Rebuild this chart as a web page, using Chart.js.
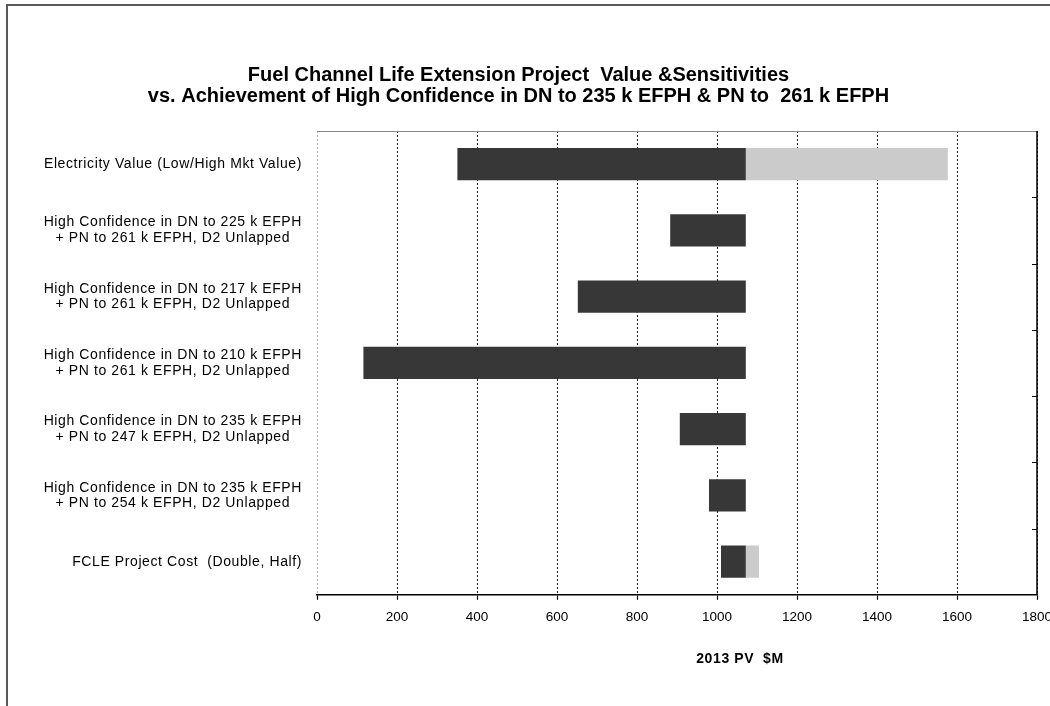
<!DOCTYPE html>
<html><head><meta charset="utf-8">
<script src="https://cdn.jsdelivr.net/npm/chart.js@4/dist/chart.umd.min.js"></script>
<style>
html,body{margin:0;padding:0;background:#fff;}
#wrap{position:relative;width:1050px;height:706px;overflow:hidden;background:#fff;}
#frame{position:absolute;left:6px;top:4px;width:1100px;height:800px;border-left:2px solid #5a5a5a;border-top:2px solid #5a5a5a;box-sizing:border-box;}
canvas{position:absolute;left:0;top:0;}
</style></head>
<body><div id="wrap"><div id="frame"></div><canvas id="c" width="1050" height="706"></canvas></div>
<script>
// ---- data ----
const titleLines = [
  "Fuel Channel Life Extension Project  Value &Sensitivities",
  "vs. Achievement of High Confidence in DN to 235 k EFPH & PN to  261 k EFPH"
];
const categories = [
  ["Electricity Value (Low/High Mkt Value)"],
  ["High Confidence in DN to 225 k EFPH", "+ PN to 261 k EFPH, D2 Unlapped"],
  ["High Confidence in DN to 217 k EFPH", "+ PN to 261 k EFPH, D2 Unlapped"],
  ["High Confidence in DN to 210 k EFPH", "+ PN to 261 k EFPH, D2 Unlapped"],
  ["High Confidence in DN to 235 k EFPH", "+ PN to 247 k EFPH, D2 Unlapped"],
  ["High Confidence in DN to 235 k EFPH", "+ PN to 254 k EFPH, D2 Unlapped"],
  ["FCLE Project Cost  (Double, Half)"]
];
const baseValue = 1072;
const lowValues  = [351, 883, 652, 116, 907, 980, 1010];
const highValues = [1577, null, null, null, null, null, 1105];
const xMin = 0, xMax = 1800, xStep = 200;
const xAxisTitle = "2013 PV  $M";

// ---- plugins ----
const FONT = '"Liberation Sans", Arial, sans-serif';
function setSpacing(ctx, v){ if ('letterSpacing' in ctx) ctx.letterSpacing = v; }

const catLabels = {
  id: 'catLabels',
  afterDraw(chart) {
    const ctx = chart.ctx, ys = chart.scales.y;
    const right = chart.chartArea.left - 15;
    ctx.save();
    ctx.font = '14px ' + FONT;
    setSpacing(ctx, '0.6px');
    ctx.fillStyle = '#000';
    ctx.textBaseline = 'middle';
    ctx.textAlign = 'center';
    categories.forEach((lines, i) => {
      const cy = ys.getPixelForValue(i);
      const w = Math.max(...lines.map(l => ctx.measureText(l).width));
      const cx = right - w / 2;
      const lh = 15.5;
      lines.forEach((l, j) => ctx.fillText(l, cx, cy + (j - (lines.length - 1) / 2) * lh));
    });
    ctx.restore();
  }
};

const plotFrame = {
  id: 'plotFrame',
  afterDraw(chart) {
    const ctx = chart.ctx, a = chart.chartArea, ys = chart.scales.y;
    ctx.save();
    ctx.strokeStyle = '#8a8a8a'; ctx.lineWidth = 1;
    ctx.beginPath(); ctx.moveTo(a.left, a.top + 0.5); ctx.lineTo(a.right, a.top + 0.5); ctx.stroke();
    ctx.strokeStyle = '#000'; ctx.lineWidth = 1.5;
    ctx.beginPath(); ctx.moveTo(a.right, a.top); ctx.lineTo(a.right, a.bottom); ctx.stroke();
    ctx.lineWidth = 1;
    for (let i = 1; i < categories.length; i++) {
      const yb = Math.round((ys.getPixelForValue(i - 1) + ys.getPixelForValue(i)) / 2) + 0.5;
      ctx.beginPath(); ctx.moveTo(a.right - 5, yb); ctx.lineTo(a.right, yb); ctx.stroke();
    }
    // axis title
    ctx.font = 'bold 14px ' + FONT;
    setSpacing(ctx, '0.6px');
    ctx.fillStyle = '#000';
    ctx.textAlign = 'center'; ctx.textBaseline = 'middle';
    ctx.fillText(xAxisTitle, a.left + (a.right - a.left) * 0.5875, a.bottom + 64);
    ctx.restore();
  }
};

new Chart(document.getElementById('c'), {
  type: 'bar',
  data: {
    labels: categories.map(l => l.join(' ')),
    datasets: [
      { label: 'Low', data: lowValues.map(v => [v, baseValue]), backgroundColor: '#373737',
        grouped: false, barPercentage: 1, categoryPercentage: 0.485, borderWidth: 0 },
      { label: 'High', data: highValues.map(v => v === null ? null : [baseValue, v]), backgroundColor: '#cbcbcb',
        grouped: false, barPercentage: 1, categoryPercentage: 0.485, borderWidth: 0 }
    ]
  },
  options: {
    indexAxis: 'y',
    responsive: false,
    animation: false,
    events: [],
    layout: { padding: { left: 0, right: 13, top: 0, bottom: 72 } },
    plugins: {
      legend: { display: false },
      tooltip: { enabled: false },
      title: {
        display: true, text: titleLines, color: '#000',
        font: { family: FONT, size: 20, weight: 'bold', lineHeight: 1.05 },
        padding: { top: 64.5, bottom: 24.5 }
      }
    },
    scales: {
      x: {
        type: 'linear', min: xMin, max: xMax,
        ticks: { stepSize: xStep, color: '#000', font: { family: FONT, size: 13.5 }, padding: 9, autoSkip: false, maxRotation: 0,
                 callback: v => String(v) },
        grid: { color: c => (c.tick && c.tick.value === 0) ? '#b0b0b0' : '#1a1a1a', lineWidth: 1,
                tickLength: 5, tickColor: '#000', tickWidth: 1.2, tickBorderDash: [] },
        border: { display: true, color: '#000', width: 1.5, dash: [2, 2] },
        afterFit(s) { s.paddingRight = 0; s.paddingLeft = 0; }
      },
      y: {
        type: 'category',
        grid: { display: false }, border: { display: false }, ticks: { display: false },
        afterFit(s) { s.width = 317; }
      }
    }
  },
  plugins: [catLabels, plotFrame]
});
</script>
</body></html>
